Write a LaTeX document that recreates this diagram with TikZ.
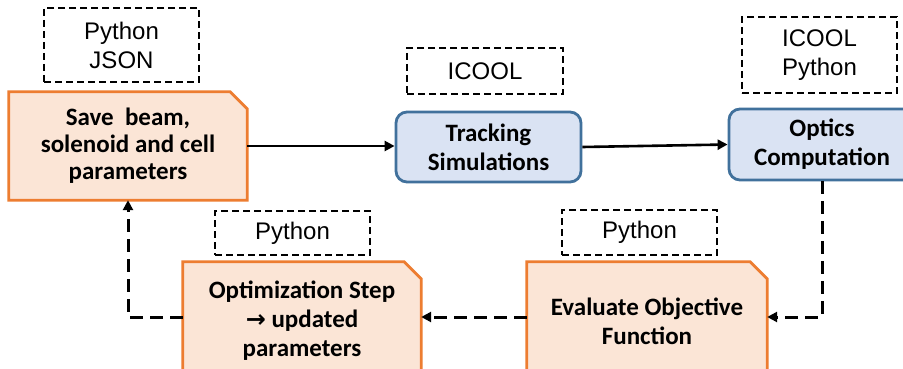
\documentclass[tikz,border=0pt]{standalone}
\usepackage{fontspec}
\setmainfont{Carlito}
\newfontfamily\labfont{Liberation Sans}
\newfontfamily\arrfont{DejaVu Sans}
\usetikzlibrary{arrows.meta,backgrounds}
\definecolor{orline}{HTML}{ED7D31}
\definecolor{orfill}{HTML}{FBE5D6}
\definecolor{blline}{HTML}{41719C}
\definecolor{blfill}{HTML}{DAE3F3}
\tikzset{
  lbl/.style={draw=black, line width=1.2pt, dash pattern=on 7pt off 4pt, inner sep=0pt,
    align=center, font=\labfont\fontsize{24}{29}\selectfont},
  orbox/.style={inner sep=0pt, align=center, font=\bfseries\fontsize{25}{27}\selectfont},
  botbox/.style={inner sep=0pt, align=center, font=\bfseries\fontsize{25}{29}\selectfont},
  blbox/.style={draw=blline, fill=blfill, line width=2.8pt, rounded corners=11pt, inner sep=0pt,
    align=center, font=\bfseries\fontsize{25}{29}\selectfont},
  solidarr/.style={line width=2.6pt, -{Triangle[length=10pt,width=10pt]}},
  dasharr/.style={line width=3pt, dash pattern=on 13pt off 7pt, -{Triangle[length=10pt,width=10pt]}}
}
\newcommand\chambox[1]{%
  \fill[orfill, draw=orline, line width=2.8pt] (#1.south west) -- (#1.north west)
    -- ([xshift=-17pt]#1.north east) -- ([yshift=-17pt]#1.north east) -- (#1.south east) -- cycle;}
\begin{document}
\begin{tikzpicture}[x=1pt,y=-1pt]
\clip (0,0) rectangle (903,369);
\useasboundingbox (0,0) rectangle (903,369);

% labels
\node[lbl, minimum width=155pt, minimum height=74pt] (l1) at (121.5,45) {Python\\JSON};
\node[lbl, minimum width=156pt, minimum height=46pt] (l2) at (485,71) {ICOOL};
\node[lbl, minimum width=155pt, minimum height=76pt] (l3) at (819.5,55) {ICOOL\\Python};
\node[lbl, minimum width=155pt, minimum height=44pt] (l4) at (292.5,233) {Python};
\node[lbl, minimum width=155pt, minimum height=45pt] (l5) at (639.5,232.5) {Python};

% main boxes
\node[orbox, minimum width=238pt, minimum height=108pt] (save) at (128,146)
  {Save~ beam,\\solenoid and cell\\parameters};
\node[blbox, minimum width=185pt, minimum height=70pt] (track) at (488.5,147)
  {Tracking\\Simulations};
\node[blbox, minimum width=186pt, minimum height=71pt] (optics) at (822,144.5)
  {Optics\\Computation};
\node[botbox, minimum width=240pt, minimum height=118pt] (eval) at (647,321)
  {Evaluate Objective\\Function};
\node[botbox, minimum width=238pt, minimum height=118pt] (opt) at (302,321)
  {Optimization Step\\{\arrfont\bfseries\fontsize{24}{29}\selectfont →} updated\\parameters};

\begin{scope}[on background layer]
\fill[white] (0,0) rectangle (903,369);
\chambox{save}
\chambox{eval}
\chambox{opt}
\end{scope}

% connectors
\draw[solidarr] (save.east) -- (save.east -| track.west);
\draw[solidarr] (track.east) -- (optics.west);
\draw[dasharr] (optics.south) |- ([yshift=4pt]eval.east);
\draw[dasharr] ([yshift=4pt]eval.west) -- ([yshift=4pt]opt.east);
\coordinate (bend) at (128,317);
\draw[dasharr] ([yshift=4pt]opt.west) -- (bend) -- (save.south);
\end{tikzpicture}
\end{document}
